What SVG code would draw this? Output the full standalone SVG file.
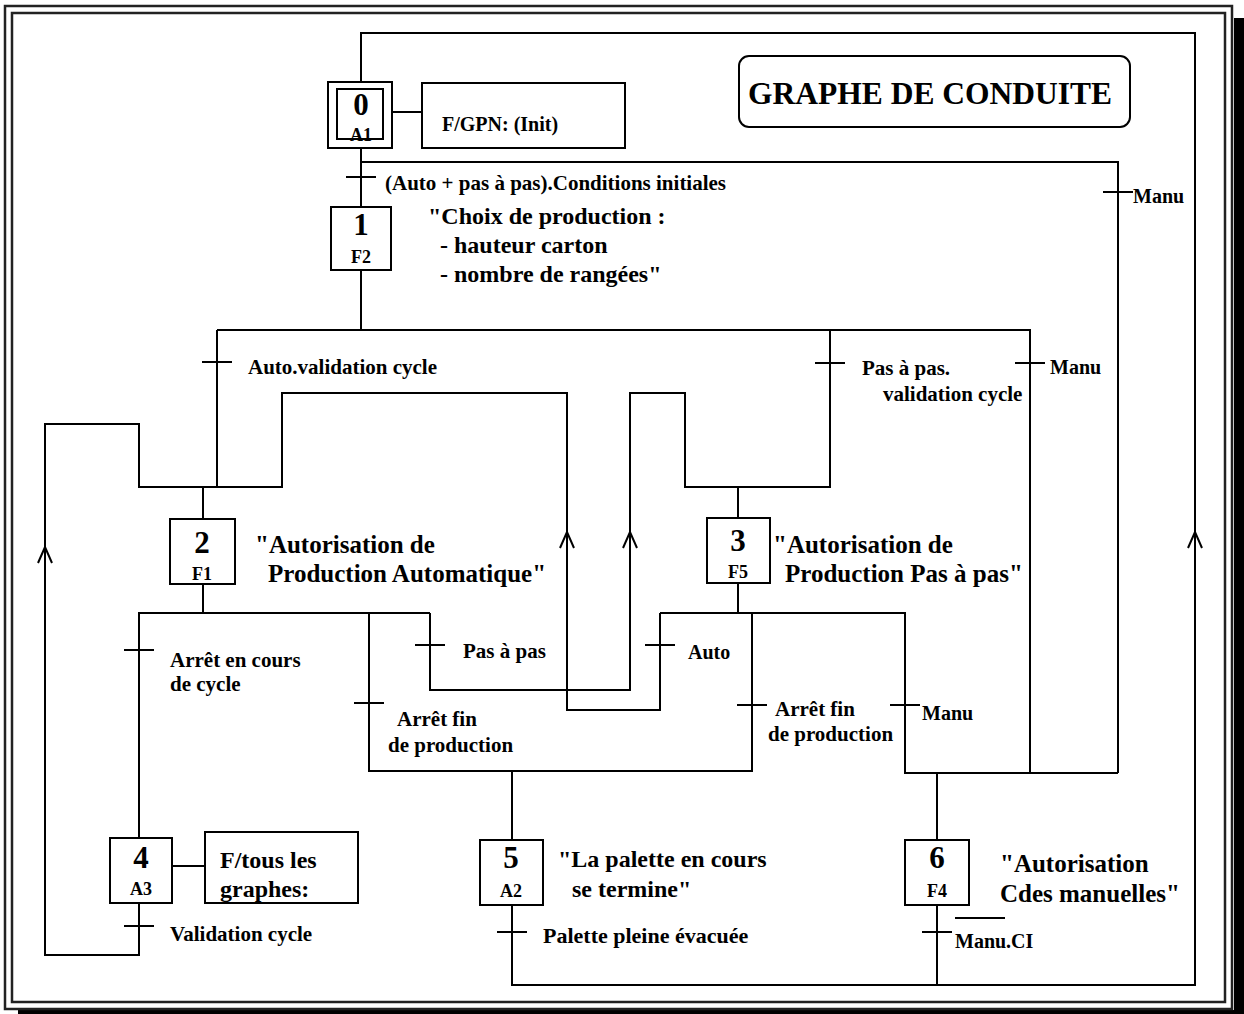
<svg xmlns="http://www.w3.org/2000/svg" xmlns:xlink="http://www.w3.org/1999/xlink" width="1244" height="1014" viewBox="0 0 1244 1014">
<style>
.ln{stroke:#000;stroke-width:2;fill:none}
.box{fill:#fff;stroke:#000;stroke-width:2}
.t{font-family:"Liberation Serif","Times New Roman",serif;font-weight:bold;fill:#000}
.num{font-size:31px;text-anchor:middle}
.sub{font-size:18px;text-anchor:middle}
.lab{font-size:21px}
.act{font-size:24px}
.act2{font-size:25px}
</style>
<defs>
<path id="tick" d="M-15,0H15" stroke="#000" stroke-width="2"/>
<path id="arr" d="M-7,16L0,0L7,16" stroke="#000" stroke-width="2" fill="none"/>
</defs>
<rect x="0" y="0" width="1244" height="1014" fill="#fff"/>
<g id="frame">
<rect x="1234" y="18" width="10" height="996" fill="#000"/>
<rect x="18" y="1010" width="1226" height="4" fill="#000"/>
<rect x="5" y="6" width="1227" height="1003" fill="none" stroke="#222" stroke-width="2.5"/>
<rect x="12" y="13" width="1213" height="989" fill="none" stroke="#222" stroke-width="2.5"/>
</g>
<g id="title">
<rect x="739" y="56" width="391" height="71" rx="10" class="box"/>
<text x="748" y="104" class="t" font-size="31.5">GRAPHE DE CONDUITE</text>
</g>
<g id="connectors" class="ln">
<path d="M361,82V33H1195V985H512V905"/>
<path d="M937,905V985"/>
<path d="M361,148V207"/>
<path d="M361,162H1118V773"/>
<path d="M361,270V330"/>
<path d="M217,330H1030V773"/>
<path d="M217,330V487"/>
<path d="M830,330V487H685V393H630V690H430V613"/>
<path d="M139,903V955H45V424H139V487H282V393H567V710H660V613"/>
<path d="M203,487V519"/>
<path d="M738,487V518"/>
<path d="M203,584V613"/>
<path d="M139,838V613H430"/>
<path d="M369,613V771H752V613"/>
<path d="M738,583V613"/>
<path d="M660,613H905V773H1118"/>
<path d="M512,771V840"/>
<path d="M937,773V840"/>
<path d="M392,112H422"/>
<path d="M172,866H205"/>
<use xlink:href="#tick" x="361" y="177"/>
<use xlink:href="#tick" x="1118" y="192"/>
<use xlink:href="#tick" x="217" y="362"/>
<use xlink:href="#tick" x="830" y="363"/>
<use xlink:href="#tick" x="1030" y="363"/>
<use xlink:href="#tick" x="139" y="650"/>
<use xlink:href="#tick" x="430" y="645"/>
<use xlink:href="#tick" x="369" y="703"/>
<use xlink:href="#tick" x="660" y="645"/>
<use xlink:href="#tick" x="752" y="705"/>
<use xlink:href="#tick" x="905" y="705"/>
<use xlink:href="#tick" x="139" y="926"/>
<use xlink:href="#tick" x="512" y="932"/>
<use xlink:href="#tick" x="937" y="932"/>
<use xlink:href="#arr" x="45" y="547"/>
<use xlink:href="#arr" x="567" y="532"/>
<use xlink:href="#arr" x="630" y="532"/>
<use xlink:href="#arr" x="1195" y="532"/>
</g>
<g id="transition-labels" class="t lab">
<text x="385" y="190">(Auto + pas à pas).Conditions initiales</text>
<text x="1133" y="203" font-size="20">Manu</text>
<text x="248" y="374">Auto.validation cycle</text>
<text x="862" y="375">Pas à pas.</text>
<text x="883" y="401">validation cycle</text>
<text x="1050" y="374" font-size="20">Manu</text>
<text x="170" y="667">Arrêt en cours</text>
<text x="170" y="691">de cycle</text>
<text x="463" y="658">Pas à pas</text>
<text x="397" y="726">Arrêt fin</text>
<text x="388" y="752">de production</text>
<text x="688" y="659" font-size="20">Auto</text>
<text x="775" y="716">Arrêt fin</text>
<text x="768" y="741">de production</text>
<text x="922" y="720" font-size="20">Manu</text>
<text x="170" y="941">Validation cycle</text>
<text x="543" y="943" font-size="22">Palette pleine évacuée</text>
<text x="955" y="948" font-size="20">Manu.CI</text>
<path d="M955,918H1005" stroke="#000" stroke-width="2"/>
</g>
<g id="step0">
<rect x="328" y="82" width="64" height="66" class="box"/>
<rect x="337" y="89" width="46" height="50" class="box"/>
<text x="361" y="115" class="t num">0</text>
<text x="361" y="141" class="t sub">A1</text>
</g>
<g id="action0">
<rect x="422" y="83" width="203" height="65" class="box"/>
<text x="442" y="131" class="t" font-size="20">F/GPN: (Init)</text>
</g>
<g id="step1">
<rect x="331" y="207" width="60" height="63" class="box"/>
<text x="361" y="235" class="t num">1</text>
<text x="361" y="263" class="t sub">F2</text>
<text x="428" y="224" class="t act">"Choix de production :</text>
<text x="440" y="253" class="t act">- hauteur carton</text>
<text x="440" y="282" class="t act">- nombre de rangées"</text>
</g>
<g id="step2">
<rect x="170" y="519" width="65" height="65" class="box"/>
<text x="202" y="553" class="t num">2</text>
<text x="202" y="580" class="t sub">F1</text>
<text x="255" y="553" class="t act2">"Autorisation de</text>
<text x="268" y="582" class="t act2">Production Automatique"</text>
</g>
<g id="step3">
<rect x="707" y="518" width="63" height="65" class="box"/>
<text x="738" y="551" class="t num">3</text>
<text x="738" y="578" class="t sub">F5</text>
<text x="773" y="553" class="t act2">"Autorisation de</text>
<text x="785" y="582" class="t act2">Production Pas à pas"</text>
</g>
<g id="step4">
<rect x="110" y="838" width="62" height="65" class="box"/>
<text x="141" y="868" class="t num">4</text>
<text x="141" y="895" class="t sub">A3</text>
</g>
<g id="action4">
<rect x="205" y="832" width="153" height="71" class="box"/>
<text x="220" y="868" class="t act">F/tous les</text>
<text x="220" y="897" class="t act">graphes:</text>
</g>
<g id="step5">
<rect x="480" y="840" width="63" height="65" class="box"/>
<text x="511" y="868" class="t num">5</text>
<text x="511" y="897" class="t sub">A2</text>
<text x="558" y="867" class="t act">"La palette en cours</text>
<text x="572" y="897" class="t act">se termine"</text>
</g>
<g id="step6">
<rect x="905" y="840" width="64" height="65" class="box"/>
<text x="937" y="868" class="t num">6</text>
<text x="937" y="897" class="t sub">F4</text>
<text x="1000" y="872" class="t act2">"Autorisation</text>
<text x="1000" y="902" class="t act2">Cdes manuelles"</text>
</g>
</svg>
